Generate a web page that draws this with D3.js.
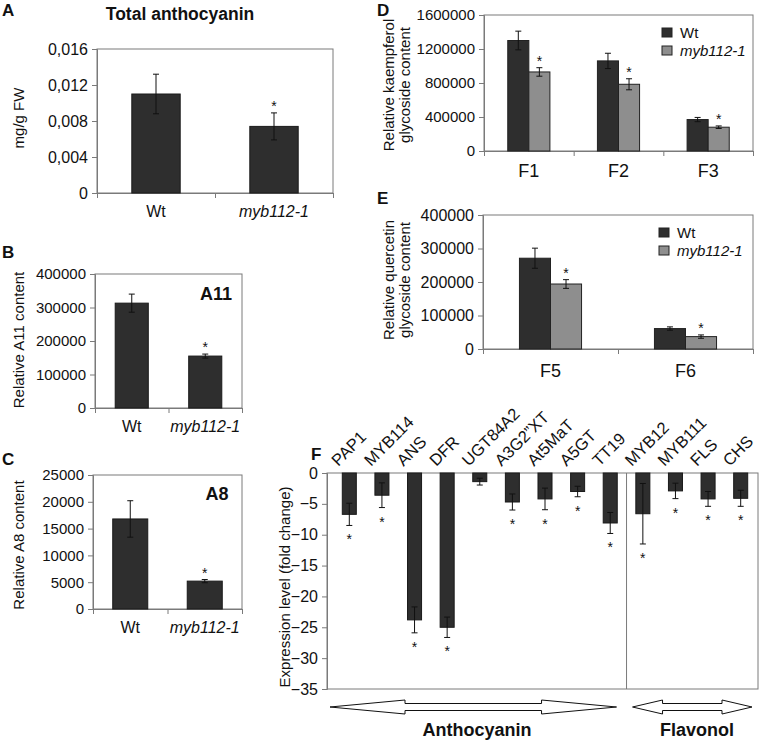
<!DOCTYPE html>
<html><head><meta charset="utf-8">
<script src="https://cdn.jsdelivr.net/npm/d3@7"></script>
<style>
body{margin:0;background:#fff;}
svg text{font-family:"Liberation Sans",Arial,Helvetica,sans-serif;fill:#111;}
</style></head>
<body><svg id="fig" width="771" height="741"></svg>
<script>
// ---------- DATA ----------
const genotypes = ["Wt", "myb112-1"];
const totalAnthocyanin = [0.0110, 0.0074];
const totalAnthocyaninErr = [0.0022, 0.0015];
const totalAnthocyaninSig = [false, true];
const anthTicks = [0, 0.004, 0.008, 0.012, 0.016];

const a11Content = [313000, 155000];
const a11Err = [27000, 6000];
const a11Sig = [false, true];
const a11Ticks = [0, 100000, 200000, 300000, 400000];

const a8Content = [16800, 5200];
const a8Err = [3400, 300];
const a8Sig = [false, true];
const a8Ticks = [0, 5000, 10000, 15000, 20000, 25000];

const kaempCats = ["F1", "F2", "F3"];
const kaempWt = [1300000, 1060000, 370000];
const kaempWtErr = [110000, 90000, 25000];
const kaempMyb = [930000, 785000, 280000];
const kaempMybErr = [50000, 65000, 15000];
const kaempTicks = [0, 400000, 800000, 1200000, 1600000];

const quercCats = ["F5", "F6"];
const quercWt = [271000, 61000];
const quercWtErr = [30000, 5000];
const quercMyb = [194000, 37000];
const quercMybErr = [13000, 5000];
const quercTicks = [0, 100000, 200000, 300000, 400000];

const genes = ["PAP1","MYB114","ANS","DFR","UGT84A2","A3G2\u201dXT","At5MaT","A5GT","TT19","MYB12","MYB111","FLS","CHS"];
const geneExpr = [-6.7, -3.6, -23.8, -25.0, -1.4, -4.7, -4.2, -3.0, -8.1, -6.6, -2.9, -4.2, -4.1];
const geneErr = [1.8, 2.0, 2.1, 1.65, 0.55, 1.3, 1.75, 0.85, 1.7, 4.9, 1.25, 1.2, 1.3];
const geneSig = [true, true, true, true, false, true, true, true, true, true, true, true, true];
const exprTicks = [0, -5, -10, -15, -20, -25, -30, -35];
const groups = ["Anthocyanin", "Flavonol"];

// ---------- STYLE ----------
const DARK = "#2e2e2e", GRAY = "#8e8e8e", FRAME = "#7a7a7a";
const svg = d3.select("#fig");
svg.append("rect").attr("width", 771).attr("height", 741).attr("fill", "#fff");

function letter(t, x, y) {
  svg.append("text").attr("x", x).attr("y", y).attr("font-size", 17).attr("font-weight", "bold").text(t);
}
function star(x, cy, size) {
  size = size || 14;
  svg.append("text").attr("x", x).attr("y", cy + 0.57 * size).attr("text-anchor", "middle")
    .attr("font-size", size).text("*");
}
function frame(x0, y0, x1, y1) {
  svg.append("rect").attr("x", x0).attr("y", y0).attr("width", x1 - x0).attr("height", y1 - y0)
    .attr("fill", "none").attr("stroke", FRAME).attr("stroke-width", 1);
}
function leftAxis(y, x0, ticks, fmt, fs) {
  const g = svg.append("g").attr("transform", `translate(${x0},0)`)
    .call(d3.axisLeft(y).tickValues(ticks).tickSize(5).tickPadding(4).tickFormat(fmt));
  g.selectAll("path,line").attr("stroke", FRAME);
  g.selectAll("text").attr("font-size", fs || 15).attr("fill", "#111")
    .attr("font-family", '"Liberation Sans",Arial,sans-serif');
  return g;
}
function catTicks(n, x0, x1, yb) {
  const s = d3.scaleLinear().domain([0, n]).range([x0, x1]);
  const g = svg.append("g").attr("transform", `translate(0,${yb})`)
    .call(d3.axisBottom(s).tickValues(d3.range(n + 1)).tickSize(5).tickFormat(""));
  g.selectAll("path,line").attr("stroke", FRAME);
}
function errBar(x, yTop, yBot, cap) {
  svg.append("line").attr("x1", x).attr("x2", x).attr("y1", yTop).attr("y2", yBot).attr("stroke", "#111");
  [yTop, yBot].forEach(yy => svg.append("line").attr("x1", x - cap).attr("x2", x + cap)
    .attr("y1", yy).attr("y2", yy).attr("stroke", "#111"));
}
function yLabel(lines, xs, cy, fs) {
  lines.forEach((l, i) => svg.append("text").attr("transform", `translate(${xs[i]},${cy}) rotate(-90)`)
    .attr("text-anchor", "middle").attr("dominant-baseline", "central").attr("font-size", fs || 15).text(l));
}

// ---------- simple two-bar panels (A,B,C) ----------
function simplePanel(o) {
  const x = d3.scaleBand().domain(genotypes).range([o.x0, o.x1]).paddingInner(o.pad).paddingOuter(o.pad / 2);
  const y = d3.scaleLinear().domain([0, o.ticks[o.ticks.length - 1]]).range([o.yb, o.yt]);
  frame(o.x0, o.yt, o.x1, o.yb);
  leftAxis(y, o.x0, o.ticks, o.fmt, o.tfs);
  catTicks(genotypes.length, o.x0, o.x1, o.yb);
  genotypes.forEach((gname, i) => {
    svg.append("rect").attr("x", x(gname)).attr("y", y(o.vals[i])).attr("width", x.bandwidth())
      .attr("height", y(0) - y(o.vals[i])).attr("fill", DARK).attr("stroke", "#1a1a1a");
    const cx = x(gname) + x.bandwidth() / 2;
    errBar(cx, y(o.vals[i] + o.errs[i]), y(o.vals[i] - o.errs[i]), 3);
    if (o.sig[i]) star(cx, y(o.vals[i] + o.errs[i]) - 10);
    svg.append("text").attr("x", x(gname) + x.bandwidth() / 2).attr("y", o.labY).attr("text-anchor", "middle")
      .attr("font-size", 16).attr("font-style", i === 1 ? "italic" : "normal").text(gname);
  });
  return { x, y };
}

// A
letter("A", 2, 16);
svg.append("text").attr("x", 180).attr("y", 20).attr("text-anchor", "middle").attr("font-size", 17.5)
  .attr("font-weight", "bold").text("Total anthocyanin");
simplePanel({ x0: 97, x1: 333, yt: 49, yb: 193, ticks: anthTicks, vals: totalAnthocyanin,
  errs: totalAnthocyaninErr, sig: totalAnthocyaninSig, pad: 0.59, labY: 217, tfs: 16,
  fmt: d => d === 0 ? "0" : d3.format(".3f")(d).replace(".", ",") });
yLabel(["mg/g FW"], [18], 118, 15);

// B
letter("B", 2, 258);
simplePanel({ x0: 95, x1: 242, yt: 274, yb: 408, ticks: a11Ticks, vals: a11Content, errs: a11Err,
  sig: a11Sig, pad: 0.55, labY: 432, tfs: 15, fmt: d3.format("d") });
svg.append("text").attr("x", 216).attr("y", 300).attr("text-anchor", "middle").attr("font-size", 18)
  .attr("font-weight", "bold").text("A11");
yLabel(["Relative A11 content"], [18], 340, 15);

// C
letter("C", 2, 465);
simplePanel({ x0: 93, x1: 242, yt: 475, yb: 609, ticks: a8Ticks, vals: a8Content, errs: a8Err,
  sig: a8Sig, pad: 0.53, labY: 633, tfs: 15, fmt: d3.format("d") });
svg.append("text").attr("x", 217).attr("y", 500).attr("text-anchor", "middle").attr("font-size", 18)
  .attr("font-weight", "bold").text("A8");
yLabel(["Relative A8 content"], [18], 545, 15);

// ---------- grouped panels (D,E) ----------
function groupedPanel(o) {
  const x0 = d3.scaleBand().domain(o.cats).range([o.x0, o.x1]).paddingInner(o.pad).paddingOuter(o.pad / 2);
  const x1 = d3.scaleBand().domain(genotypes).range([0, x0.bandwidth()]);
  const y = d3.scaleLinear().domain([0, o.ticks[o.ticks.length - 1]]).range([o.yb, o.yt]);
  frame(o.x0, o.yt, o.x1, o.yb);
  leftAxis(y, o.x0, o.ticks, d3.format("d"), o.tfs);
  catTicks(o.cats.length, o.x0, o.x1, o.yb);
  const series = [{ v: o.wt, e: o.wtErr, c: DARK, sig: false }, { v: o.myb, e: o.mybErr, c: GRAY, sig: true }];
  o.cats.forEach((c, i) => {
    series.forEach((s, j) => {
      const bx = x0(c) + x1(genotypes[j]);
      svg.append("rect").attr("x", bx).attr("y", y(s.v[i])).attr("width", x1.bandwidth())
        .attr("height", y(0) - y(s.v[i])).attr("fill", s.c).attr("stroke", "#222");
      const cx = bx + x1.bandwidth() / 2;
      errBar(cx, y(s.v[i] + s.e[i]), y(s.v[i] - s.e[i]), 3);
      if (s.sig) star(cx, y(s.v[i] + s.e[i]) - 10);
    });
    svg.append("text").attr("x", x0(c) + x0.bandwidth() / 2).attr("y", o.labY).attr("text-anchor", "middle")
      .attr("font-size", 18).text(c);
  });
  // legend
  genotypes.forEach((gname, j) => {
    svg.append("rect").attr("x", o.legX).attr("y", o.legY + j * 18).attr("width", 10).attr("height", 9)
      .attr("fill", series[j].c).attr("stroke", "#222");
    svg.append("text").attr("x", o.legX + 18).attr("y", o.legY + j * 18 + 9.5).attr("font-size", 15)
      .attr("font-style", j === 1 ? "italic" : "normal").text(gname);
  });
}

letter("D", 377, 16);
groupedPanel({ cats: kaempCats, wt: kaempWt, wtErr: kaempWtErr, myb: kaempMyb, mybErr: kaempMybErr,
  ticks: kaempTicks, x0: 484, x1: 753, yt: 15, yb: 151, pad: 0.53, labY: 177, legX: 662, legY: 28, tfs: 15 });
yLabel(["Relative kaempferol", "glycoside content"], [388, 404], 85, 15);

letter("E", 377, 204);
groupedPanel({ cats: quercCats, wt: quercWt, wtErr: quercWtErr, myb: quercMyb, mybErr: quercMybErr,
  ticks: quercTicks, x0: 483, x1: 753, yt: 215, yb: 349, pad: 0.54, labY: 377, legX: 659, legY: 228, tfs: 16 });
yLabel(["Relative quercetin", "glycoside content"], [388, 404], 280, 15);

// ---------- F ----------
letter("F", 311, 460);
const fx = d3.scaleBand().domain(genes).range([333, 757]).paddingInner(0.57).paddingOuter(0.285);
const fy = d3.scaleLinear().domain([0, -35]).range([473, 689]);
frame(327, 473, 758, 689);
leftAxis(fy, 327, exprTicks, d3.format("d"), 16);
// divider between anthocyanin and flavonol genes
const divX = fx("MYB12") - fx.step() * fx.paddingInner() / 2;
svg.append("line").attr("x1", divX).attr("x2", divX).attr("y1", 473).attr("y2", 689).attr("stroke", FRAME);
genes.forEach((gname, i) => {
  const v = geneExpr[i];
  svg.append("rect").attr("x", fx(gname)).attr("y", fy(0)).attr("width", fx.bandwidth())
    .attr("height", fy(v) - fy(0)).attr("fill", DARK).attr("stroke", "#1a1a1a");
  const cx = fx(gname) + fx.bandwidth() / 2;
  errBar(cx, fy(v + geneErr[i]), fy(v - geneErr[i]), 3);
  if (geneSig[i]) star(cx, fy(v - geneErr[i]) + 11);
  svg.append("text").attr("transform", `translate(${cx - 11},467) rotate(-45)`).attr("font-size", 16.5).text(gname);
});
yLabel(["Expression level (fold change)"], [284], 587, 15);

// double arrows
function dblArrow(xa, xb, yc, hl, hh, sh) {
  const pts = [[xa, yc], [xa + hl, yc - hh], [xa + hl, yc - sh], [xb - hl, yc - sh], [xb - hl, yc - hh], [xb, yc],
    [xb - hl, yc + hh], [xb - hl, yc + sh], [xa + hl, yc + sh], [xa + hl, yc + hh]];
  svg.append("polygon").attr("points", pts.map(p => p.join(",")).join(" "))
    .attr("fill", "#fff").attr("stroke", "#111").attr("stroke-width", 1);
}
dblArrow(330, divX - 10, 707, 75, 7, 3.5);
dblArrow(divX + 6, 752, 707, 30, 7, 3.5);
svg.append("text").attr("x", 477).attr("y", 736).attr("text-anchor", "middle").attr("font-size", 18)
  .attr("font-weight", "bold").text(groups[0]);
svg.append("text").attr("x", 697).attr("y", 736).attr("text-anchor", "middle").attr("font-size", 18)
  .attr("font-weight", "bold").text(groups[1]);
</script></body></html>
